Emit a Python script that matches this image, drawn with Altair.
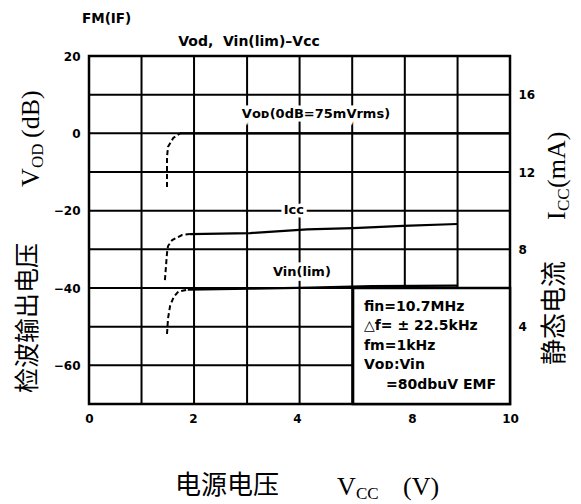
import altair as alt
import pandas as pd

# ---------------- data ----------------
x_ticks = [0, 2, 4, 8, 10]
vod_labels = [-60, -40, -20, 0, 20]
vod_grid = [-70, -60, -50, -40, -30, -20, -10, 0, 10, 20]
icc_ticks = [4, 8, 12, 16]
grid_x = [0, 1.01, 2.02, 3.04, 4.09, 5.92, 7.75, 8.93, 10]

vod_dash_v = [1.50, 1.50, 1.50, 1.52, 1.62, 1.75]
vod_dash_db = [-13.9, -9.5, -6.1, -3.5, -1.2, 0.0]
vod_solid_v = [1.75, 10.0]
vod_solid_db = [0.0, 0.0]

vin_dash_v = [1.50, 1.52, 1.56, 1.63, 1.72, 1.90]
vin_dash_db = [-51.9, -47.8, -44.6, -42.3, -40.9, -40.4]
vin_solid_v = [1.90, 3.10, 4.50, 6.60, 8.92]
vin_solid_db = [-40.4, -40.2, -39.9, -39.5, -39.4]

icc_dash_v = [1.46, 1.50, 1.52, 1.60, 1.79, 1.94]
icc_dash_ma = [6.41, 7.81, 8.17, 8.48, 8.74, 8.79]
icc_solid_v = [1.94, 3.10, 4.35, 5.95, 7.69, 8.92]
icc_solid_ma = [8.79, 8.84, 9.03, 9.10, 9.21, 9.31]

curve_labels = ["V\u1d0f\u1d05(0dB=75mVrms)", "Icc", "Vin(lim)"]
curve_label_v = [4.66, 3.94, 4.17]
curve_label_db = [5.0, -19.8, -35.9]

box_v = [5.95, 10.0]
box_db = [-40.0, -70.0]
legend_lines = ["fin=10.7MHz", "\u25b3f= \u00b1 22.5kHz", "fm=1kHz", "V\u1d0f\u1d05:Vin"]
legend_tail = "=80dbuV EMF"
legend_anchor_v = [6.33]
legend_anchor_db = [-44.9]

# ---------------- scales & axes ----------------
xscale = alt.Scale(domain=[0, 2, 4, 8, 10], range=[0, 104, 208, 323, 421], nice=False, zero=False)
ylscale = alt.Scale(domain=[-70, 20], nice=False, zero=False)
yrscale = alt.Scale(domain=[0, 18], nice=False, zero=False)

BOLD = "DejaVu Sans"
lab_style = dict(labelFont=BOLD, labelFontWeight="bold", labelFontSize=12, labelColor="black",
                 labelFlush=False, labelOverlap=False, title=None, grid=False, ticks=False, domain=False)
x_axis = alt.Axis(values=x_ticks, labelPadding=9, **lab_style)
yl_axis = alt.Axis(values=vod_labels, labelPadding=9, orient="left", **lab_style)
yr_axis = alt.Axis(values=icc_ticks, labelPadding=8, orient="right", **lab_style)


def X():
    return alt.X("v:Q", scale=xscale, axis=x_axis)


def YL():
    return alt.Y("val:Q", scale=ylscale, axis=yl_axis)


def YR():
    return alt.Y("val:Q", scale=yrscale, axis=yr_axis)


def series_df(vs, ys, name):
    return pd.DataFrame({"v": vs, "val": ys, "series": name, "order": list(range(len(vs)))})


left_dash = pd.concat([series_df(vod_dash_v, vod_dash_db, "vod"), series_df(vin_dash_v, vin_dash_db, "vin")])
left_solid = pd.concat([series_df(vod_solid_v, vod_solid_db, "vod"), series_df(vin_solid_v, vin_solid_db, "vin")])
icc_dash = series_df(icc_dash_v, icc_dash_ma, "icc")
icc_solid = series_df(icc_solid_v, icc_solid_ma, "icc")

vgrid_layer = alt.Chart(pd.DataFrame({"v": grid_x})).mark_rule(color="black", strokeWidth=2).encode(x=X())
hgrid_layer = alt.Chart(pd.DataFrame({"val": vod_grid})).mark_rule(color="black", strokeWidth=2).encode(y=YL())

dash_layer = alt.Chart(left_dash).mark_line(color="black", strokeWidth=2, strokeDash=[5, 3]).encode(
    x=X(), y=YL(), detail="series:N", order="order:Q")
solid_layer = alt.Chart(left_solid).mark_line(color="black", strokeWidth=2.2).encode(
    x=X(), y=YL(), detail="series:N", order="order:Q")

box_layer = alt.Chart(pd.DataFrame({"v": [box_v[0]], "v2": [box_v[1]], "val": [box_db[0]], "val2": [box_db[1]]})).mark_rect(
    fill="white", stroke="black", strokeWidth=2.5).encode(x=X(), x2="v2:Q", y=YL(), y2="val2:Q")

lab_df = pd.DataFrame({"v": curve_label_v, "val": curve_label_db, "t": curve_labels})
lab_halo = alt.Chart(lab_df).mark_text(font=BOLD, fontWeight="bold", fontSize=13, stroke="white",
                                       strokeWidth=7, fill="white", align="center", baseline="middle").encode(
    x=X(), y=YL(), text="t:N")
lab_text = alt.Chart(lab_df).mark_text(font=BOLD, fontWeight="bold", fontSize=13, color="black",
                                       align="center", baseline="middle").encode(
    x=X(), y=YL(), text="t:N")

legend_df = pd.DataFrame({"v": legend_anchor_v, "val": legend_anchor_db})
legend_text = alt.Chart(legend_df).mark_text(
    text=legend_lines, font=BOLD, fontWeight="bold", fontSize=14, lineHeight=19.5, color="black",
    align="left", baseline="middle").encode(x=X(), y=YL())
legend_tail_text = alt.Chart(legend_df).mark_text(
    text=legend_tail, font=BOLD, fontWeight="bold", fontSize=14, color="black",
    align="left", baseline="middle", dx=22, dy=78).encode(x=X(), y=YL())

left_group = alt.layer(hgrid_layer, vgrid_layer, dash_layer, solid_layer, box_layer, lab_halo, lab_text,
                       legend_text, legend_tail_text)

icc_dash_layer = alt.Chart(icc_dash).mark_line(color="black", strokeWidth=2, strokeDash=[5, 3]).encode(
    x=X(), y=YR(), order="order:Q")
icc_solid_layer = alt.Chart(icc_solid).mark_line(color="black", strokeWidth=2.2).encode(
    x=X(), y=YR(), order="order:Q")
right_group = alt.layer(icc_dash_layer, icc_solid_layer)

# ---------------- free text (titles) in plot pixel coordinates ----------------
one = pd.DataFrame({"k": [0]})


def txt(s, x, y, size, font, weight="normal", align="left", baseline="alphabetic", angle=0):
    kw = dict(text=s, fontSize=size, font=font, fontWeight=weight, align=align, baseline=baseline, color="black")
    if angle:
        kw["angle"] = angle
    return alt.Chart(one).mark_text(**kw).encode(x=alt.value(x), y=alt.value(y))


SERIF = "Liberation Serif"
CJK = "Noto Sans CJK SC"
texts = [
    txt("FM(IF)", -7, -37, 13.5, BOLD, "bold", baseline="middle"),
    txt("Vod,\u00a0 Vin(lim)\u2013Vcc", 160, -14, 14, BOLD, "bold", align="center", baseline="middle"),
    # left title
    txt("检波输出电压", -61, 262, 25, CJK, align="center", baseline="middle", angle=270),
    txt("V", -50, 131, 26, SERIF, angle=270),
    txt("OD", -46, 112, 17, SERIF, angle=270),
    txt("(dB)", -50, 82, 26, SERIF, angle=270),
    # right title
    txt("静态电流", 466, 257, 26, CJK, align="center", baseline="middle", angle=270),
    txt("I", 476, 164, 26, SERIF, angle=270),
    txt("CC", 480, 155, 17, SERIF, angle=270),
    txt("(mA)", 476, 132, 26, SERIF, angle=270),
    # bottom title
    txt("电源电压", 138, 430, 26, CJK, align="center", baseline="middle"),
    txt("V", 248, 439, 26, SERIF),
    txt("CC", 267, 443, 17, SERIF),
    txt("(V)", 314, 439, 26, SERIF),
]

chart = alt.layer(left_group, right_group, *texts).resolve_scale(y="independent").properties(
    width=421, height=348,
    padding={"left": 81, "top": 48, "right": 63, "bottom": 100},
    autosize=alt.AutoSizeParams(type="none"),
    background="white",
).configure_view(stroke="black", strokeWidth=2.5)

chart.save("out.html", embed_options={"renderer": "svg", "actions": False})
